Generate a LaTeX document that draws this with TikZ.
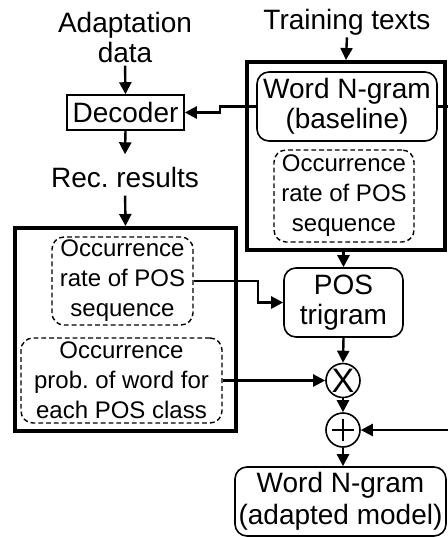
\documentclass[tikz,border=0pt]{standalone}
\usepackage{fontspec}
\setmainfont{Liberation Sans}
\usetikzlibrary{arrows.meta,calc}
\frenchspacing

\tikzset{
  x=0.5pt, y=-0.5pt,
  lbl/.style={font=\fontsize{14}{15}\selectfont, align=center, inner sep=0pt},
  plainbox/.style={draw, line width=0.8pt, inner sep=0pt, align=center,
                   font=\fontsize{14}{15}\selectfont},
  roundbox/.style={plainbox, rounded corners=6pt},
  dashbox/.style={draw, line width=0.7pt, dash pattern=on 2.4pt off 1.5pt,
                  rounded corners=6pt, inner sep=0pt, align=center,
                  font=\fontsize{12}{15}\selectfont},
  bigbox/.style={draw, line width=2pt, inner sep=0pt},
  opcircle/.style={circle, draw, line width=0.8pt, minimum size=17pt, inner sep=0pt,
                   font=\fontsize{17}{17}\selectfont},
  conn/.style={line width=1.2pt},
  arr/.style={conn, -{Triangle[length=6pt,width=6pt]}},
}

\begin{document}
\begin{tikzpicture}
\useasboundingbox (0,0) rectangle (447,537);

% input labels and decoder
\node[lbl] (adapt) at (125,37) {Adaptation\\data};
\node[plainbox, minimum width=58.5pt, minimum height=17.5pt] (dec) at (125.5,112.5) {Decoder};
\node[lbl] (rec) at (125,177) {Rec. results};
\node[lbl] (train) at (347,22) {Training texts};

% baseline model group
\node[bigbox, minimum width=99pt, minimum height=94pt] (rgrp) at (346,156) {};
\node[roundbox, minimum width=90pt, minimum height=34.5pt] (wbase) at (347,106.5) {Word N-gram\\(baseline)};
\node[dashbox, minimum width=70pt, minimum height=46pt] (occR) at (344,196) {Occurrence\\rate of POS\\sequence};

% recognition statistics group
\node[bigbox, minimum width=110.5pt, minimum height=101.5pt] (lgrp) at (125.5,329.5) {};
\node[dashbox, minimum width=70.5pt, minimum height=44pt] (occL) at (122.5,281) {Occurrence\\rate of POS\\sequence};
\node[dashbox, minimum width=100.5pt, minimum height=42.5pt] (probL) at (121.5,380.5) {Occurrence\\prob. of word for\\each POS class};

% model combination
\node[roundbox, minimum width=59.5pt, minimum height=34.5pt] (pos) at (343.5,302.5) {POS\\trigram};
\node[opcircle] (mul) at (343,380.5) {X};
\node[opcircle, path picture={
  \draw[line width=0.8pt]
    ([xshift=-5.5pt]path picture bounding box.center) -- ([xshift=5.5pt]path picture bounding box.center)
    ([yshift=-5.5pt]path picture bounding box.center) -- ([yshift=5.5pt]path picture bounding box.center);
}] (add) at (343,430) {};
\node[roundbox, minimum width=105.5pt, minimum height=34.5pt,
      font=\fontsize{14}{16}\selectfont] (adapted) at (340.5,501.5) {Word N-gram\\(adapted model)};

% lines leaving the drawing area on the right
\coordinate (outA) at (452,106.5);
\coordinate (outB) at (452,430);

% connectors
\draw[arr, shorten <=1.5pt] (adapt.south) -- (dec.north);
\draw[arr] (dec.south) -- ([yshift=6pt]rec.north);
\draw[arr, shorten <=4pt] (rec.south) -- (lgrp.north);
\draw[arr, shorten <=1pt] (train.south) -- (rgrp.north);
\draw[arr] (wbase.west) -- ++(-36,0) |- (dec.east);
\draw[conn] (wbase.east) -- (outA);
\draw[arr] (rgrp.south -| pos.north) -- (pos.north);
\draw[arr] (occL.east) -- ++(64,0) |- (pos.west);
\draw[arr] (pos.south) -- (mul.north);
\draw[arr] (probL.east) -- (mul.west);
\draw[arr] (mul.south) -- (add.north);
\draw[arr] (outB) -- (add.east);
\draw[arr] (add.south) -- (adapted.north -| add.south);
\end{tikzpicture}
\end{document}
